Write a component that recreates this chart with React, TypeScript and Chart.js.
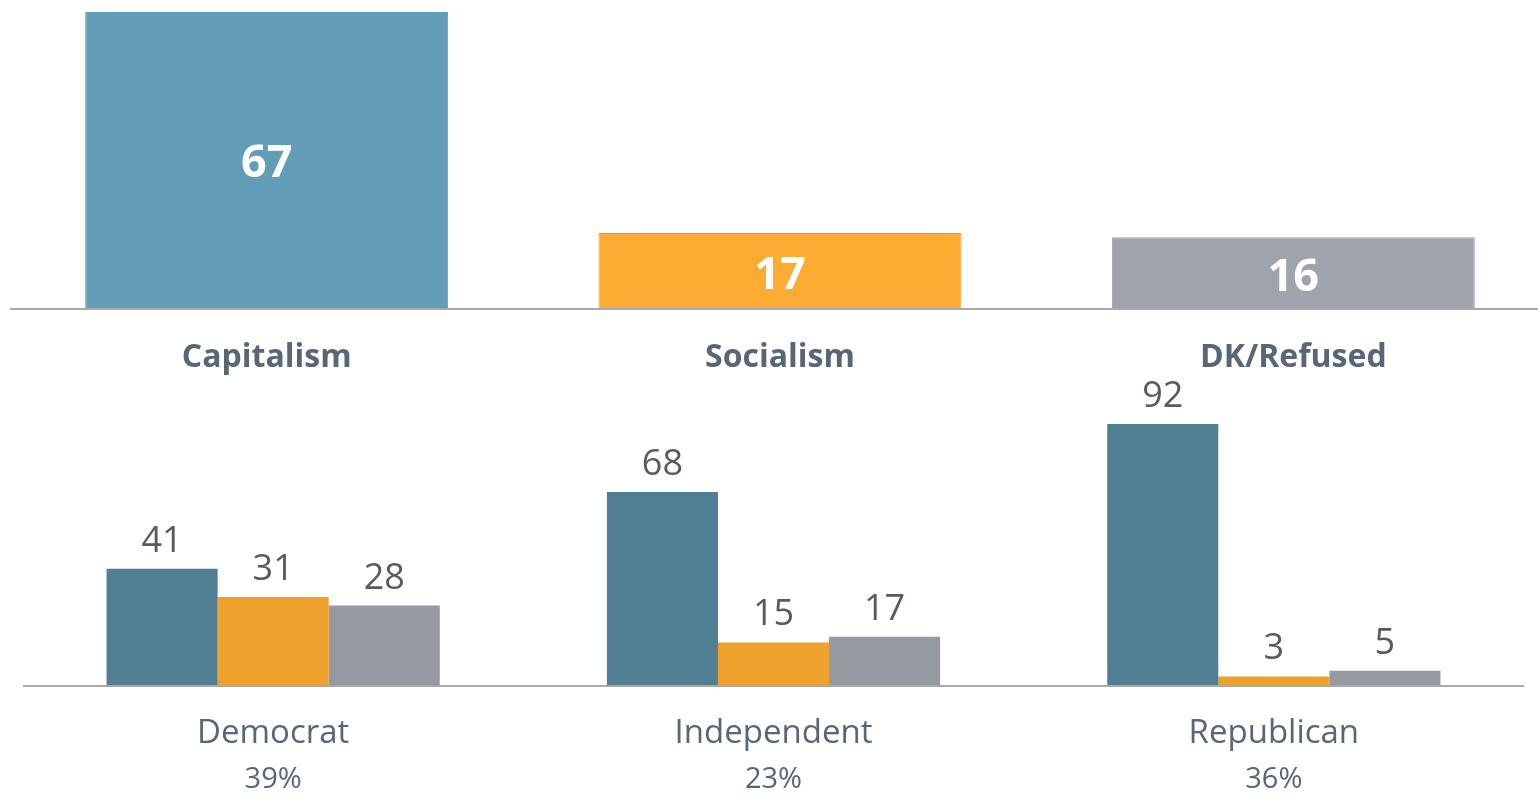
import React, { useEffect, useRef } from "react";
import { Chart, registerables } from "chart.js";

Chart.register(...registerables);

const topCategories = ["Capitalism", "Socialism", "DK/Refused"];
const topValues = [67, 17, 16];
const topColors = ["#629db7", "#fcac33", "#9fa3ab"];

const partyCategories = ["Democrat", "Independent", "Republican"];
const partyShares = ["39%", "23%", "36%"];
const capitalismByParty = [41, 68, 92];
const socialismByParty = [31, 15, 3];
const dkByParty = [28, 17, 5];
const partyColors = ["#507f93", "#eea22d", "#9599a1"];

const FONT = "'Open Sans', 'Noto Sans', sans-serif";
const LABEL_COLOR = "#596676";
const VALUE_COLOR = "#5f5858";
const AXIS_COLOR = "#a9a9ab";

const topPlugin = {
  id: "topLabels",
  afterDatasetsDraw(chart: any) {
    const { ctx } = chart;
    const x = chart.scales.x;
    const y = chart.scales.y;
    const base = y.getPixelForValue(0);
    ctx.save();
    ctx.strokeStyle = AXIS_COLOR;
    ctx.lineWidth = 2;
    ctx.beginPath();
    ctx.moveTo(10, base + 1);
    ctx.lineTo(chart.width, base + 1);
    ctx.stroke();
    const meta = chart.getDatasetMeta(0);
    meta.data.forEach((bar: any, i: number) => {
      const cx = bar.x;
      const mid = (bar.y + base) / 2;
      ctx.fillStyle = "#ffffff";
      ctx.font = `bold 45px ${FONT}`;
      ctx.textAlign = "center";
      ctx.textBaseline = "middle";
      ctx.fillText(String(topValues[i]), cx, mid + (i === 0 ? 4 : 6));
      ctx.fillStyle = LABEL_COLOR;
      ctx.font = `bold 32px ${FONT}`;
      ctx.textBaseline = "alphabetic";
      ctx.fillText(topCategories[i], x.getPixelForValue(i), base + 59);
    });
    ctx.restore();
  },
};

const bottomPlugin = {
  id: "bottomLabels",
  afterDatasetsDraw(chart: any) {
    const { ctx } = chart;
    const x = chart.scales.x;
    const y = chart.scales.y;
    const base = y.getPixelForValue(0);
    ctx.save();
    ctx.strokeStyle = AXIS_COLOR;
    ctx.lineWidth = 2;
    ctx.beginPath();
    ctx.moveTo(chart.chartArea.left, base + 1);
    ctx.lineTo(chart.chartArea.right, base + 1);
    ctx.stroke();
    ctx.textAlign = "center";
    ctx.textBaseline = "alphabetic";
    chart.data.datasets.forEach((ds: any, di: number) => {
      const meta = chart.getDatasetMeta(di);
      meta.data.forEach((bar: any, i: number) => {
        ctx.fillStyle = VALUE_COLOR;
        ctx.font = `36px ${FONT}`;
        ctx.fillText(String(ds.data[i]), bar.x, bar.y - 17);
      });
    });
    partyCategories.forEach((c, i) => {
      const cx = x.getPixelForValue(i);
      ctx.fillStyle = LABEL_COLOR;
      ctx.font = `33px ${FONT}`;
      ctx.fillText(c, cx, base + 58);
      ctx.font = `29px ${FONT}`;
      ctx.fillText(partyShares[i], cx, base + 103);
    });
    ctx.restore();
  },
};

export default function App() {
  const topRef = useRef<HTMLCanvasElement>(null);
  const botRef = useRef<HTMLCanvasElement>(null);

  useEffect(() => {
    const top = new Chart(topRef.current!, {
      type: "bar",
      data: {
        labels: topCategories,
        datasets: [
          {
            data: topValues,
            backgroundColor: topColors,
            borderColor: ["#629db7", "#e39a2c", "#9fa3ab"],
            borderWidth: 1,
            barPercentage: 1,
            categoryPercentage: 0.707,
          },
        ],
      },
      options: {
        responsive: false,
        animation: false,
        layout: { padding: { left: 10, right: 0, top: 12, bottom: 72 } },
        plugins: { legend: { display: false }, tooltip: { enabled: false } },
        scales: {
          x: { display: false },
          y: { display: false, min: 0, max: 67 },
        },
      },
      plugins: [topPlugin],
    });

    const bot = new Chart(botRef.current!, {
      type: "bar",
      data: {
        labels: partyCategories,
        datasets: [
          { data: capitalismByParty, backgroundColor: partyColors[0] },
          { data: socialismByParty, backgroundColor: partyColors[1] },
          { data: dkByParty, backgroundColor: partyColors[2] },
        ].map((d) => ({ ...d, barPercentage: 1, categoryPercentage: 0.666 })),
      },
      options: {
        responsive: false,
        animation: false,
        layout: { padding: { left: 23, right: 14, top: 44, bottom: 118 } },
        plugins: { legend: { display: false }, tooltip: { enabled: false } },
        scales: {
          x: { display: false },
          y: { display: false, min: 0, max: 92 },
        },
      },
      plugins: [bottomPlugin],
    });

    return () => {
      top.destroy();
      bot.destroy();
    };
  }, []);

  return (
    <div
      style={{
        position: "fixed",
        left: 0,
        top: 0,
        width: 1538,
        height: 803,
        overflow: "hidden",
        background: "#ffffff",
      }}
    >
      <canvas
        ref={topRef}
        width={1550}
        height={380}
        style={{ position: "absolute", left: 0, top: 0, width: 1550, height: 380 }}
      />
      <canvas
        ref={botRef}
        width={1538}
        height={423}
        style={{ position: "absolute", left: 0, top: 380, width: 1538, height: 423 }}
      />
    </div>
  );
}
